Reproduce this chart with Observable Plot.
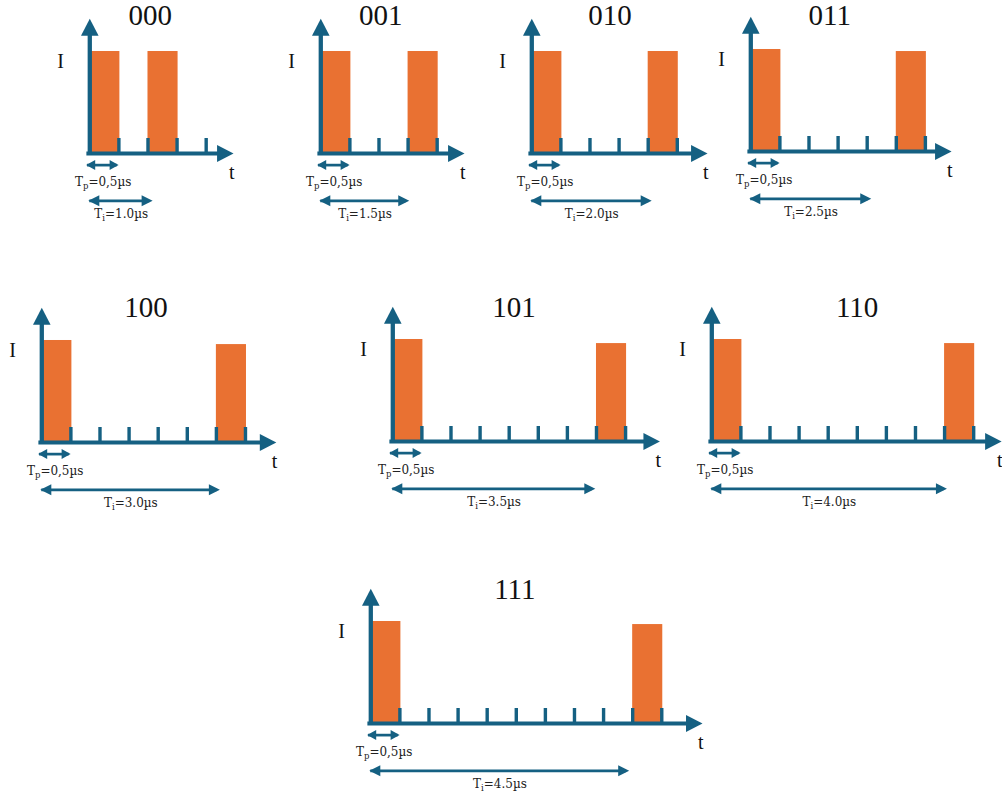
<!DOCTYPE html>
<html>
<head>
<meta charset="utf-8">
<script src="https://cdn.jsdelivr.net/npm/d3@7"></script>
<script src="https://cdn.jsdelivr.net/npm/@observablehq/plot@0.6"></script>
<style>
  body { margin: 0; background: #fff; }
  #wrap { position: relative; width: 1002px; height: 799px; overflow: hidden; background: #fff; }
  #wrap svg { position: absolute; overflow: visible; max-width: none; }
</style>
</head>
<body>
<div id="wrap"></div>
<script>
// ---------- data (µs, normalised current) ----------
const codes       = ["000", "001", "010", "011", "100", "101", "110", "111"];
const intervals   = [1.0, 1.5, 2.0, 2.5, 3.0, 3.5, 4.0, 4.5];      // Ti (µs)
const pulseWidth  = 0.5;                                             // Tp (µs)
const firstAmp    = [1, 1, 1, 1, 1, 1, 1, 1];
const secondAmp   = [1, 1, 1, 0.98, 0.96, 0.96, 0.96, 0.97];
const tickEnds    = [2.0, 2.0, 2.5, 3.0, 3.5, 4.0, 4.5, 5.0];        // last tick (µs)
const axisEnds    = [2.47, 2.47, 3.02, 3.45, 4.03, 4.59, 4.98, 5.7]; // t-axis arrow tip (µs)
const tiArrowEnds = [1.08, 1.52, 2.06, 2.07, 3.06, 3.48, 4.04, 4.44];// Ti arrow tip (µs)
const tickStep    = 0.5;
const tpText      = "T_p=0,5µs";
const tiTexts     = intervals.map(v => `T_i=${v.toFixed(1)}µs`);

// ---------- layout (page pixels: axis origin, title centre and baseline) ----------
const layout = [
  {ox: 89.6,  oy: 152.7, tx: 150, ty: 24},
  {ox: 320,   oy: 152.7, tx: 380, ty: 24},
  {ox: 531.7, oy: 152.7, tx: 610, ty: 24},
  {ox: 750,   oy: 150.7, tx: 829, ty: 24},
  {ox: 41.7,  oy: 441.5, tx: 146, ty: 316.5},
  {ox: 392.7, oy: 440.5, tx: 514, ty: 316.5},
  {ox: 711.7, oy: 440.7, tx: 857, ty: 316.5},
  {ox: 370,   oy: 723,   tx: 514, ty: 599}
];

const BLUE = "#156082", ORANGE = "#E97132";
const PX = 58.2;   // px per µs
const PY = 102;    // px per current unit
const SERIF = "'Liberation Serif', 'DejaVu Serif', serif";
const SMALL = "'DejaVu Serif', serif";

// custom filled arrow head, tip at the origin
function head(len, half, dir) {
  return {
    draw(ctx) {
      const c = Math.cos(dir), s = Math.sin(dir);
      [[0, 0], [-len, -half], [-len, half]].forEach(([x, y], i) => {
        const X = x * c - y * s, Y = x * s + y * c;
        i ? ctx.lineTo(X, Y) : ctx.moveTo(X, Y);
      });
      ctx.closePath();
    }
  };
}
const axisRight = head(16.5, 8.6, 0);
const axisUp    = head(17, 8.8, -Math.PI / 2);
const smallR    = head(9, 5, 0);
const smallL    = head(9, 5, Math.PI);
const midR      = head(11, 5.5, 0);
const midL      = head(11, 5.5, Math.PI);

const wrap = document.getElementById("wrap");
const yTip = 1.32, xMinD = -0.95, yMinD = -0.75, yMaxD = 1.5;
const tpY = -0.114, tiY = -0.464;

codes.forEach((code, i) => {
  const Ti = intervals[i];
  const L = layout[i];
  const xMaxD = axisEnds[i] + 0.2;
  const width = (xMaxD - xMinD) * PX;
  const height = (yMaxD - yMinD) * PY;
  const pulses = [
    {start: 0, end: pulseWidth, amp: firstAmp[i]},
    {start: Ti, end: Ti + pulseWidth, amp: secondAmp[i]}
  ];
  const ticks = d3.range(tickStep, tickEnds[i] + 1e-6, tickStep);
  const titleX = (L.tx - L.ox) / PX;
  const titleY = (L.oy - L.ty) / PY;
  const tiEnd = tiArrowEnds[i];

  const svg = Plot.plot({
    width, height, margin: 0,
    x: {domain: [xMinD, xMaxD], axis: null},
    y: {domain: [yMinD, yMaxD], axis: null},
    style: {background: "transparent", overflow: "visible"},
    marks: [
      Plot.rect(pulses, {x1: "start", x2: "end", y1: () => 0, y2: "amp", fill: ORANGE, insetRight: -1}),
      Plot.ruleX(ticks, {x: d => d, y1: () => 0, y2: () => 0.147, stroke: BLUE, strokeWidth: 3.4}),
      // t axis
      Plot.ruleY([0], {x1: () => -0.05, x2: () => axisEnds[i] - 0.15, stroke: BLUE, strokeWidth: 4.2}),
      Plot.dot([0], {x: () => axisEnds[i], y: () => 0, symbol: axisRight, fill: BLUE, stroke: "none"}),
      // I axis
      Plot.ruleX([0], {y1: () => -0.02, y2: () => yTip - 0.1, stroke: BLUE, strokeWidth: 4.3}),
      Plot.dot([0], {x: () => 0, y: () => yTip, symbol: axisUp, fill: BLUE, stroke: "none"}),
      // Tp double arrow
      Plot.ruleY([0], {x1: () => -0.04, x2: () => pulseWidth - 0.03, y: () => tpY, stroke: BLUE, strokeWidth: 2.7}),
      Plot.dot([0], {x: () => -0.062, y: () => tpY, symbol: smallL, fill: BLUE, stroke: "none"}),
      Plot.dot([0], {x: () => pulseWidth - 0.005, y: () => tpY, symbol: smallR, fill: BLUE, stroke: "none"}),
      // Ti double arrow
      Plot.ruleY([0], {x1: () => 0, x2: () => tiEnd - 0.05, y: () => tiY, stroke: BLUE, strokeWidth: 2.7}),
      Plot.dot([0], {x: () => -0.025, y: () => tiY, symbol: midL, fill: BLUE, stroke: "none"}),
      Plot.dot([0], {x: () => tiEnd, y: () => tiY, symbol: midR, fill: BLUE, stroke: "none"}),
      // texts
      Plot.text([code], {x: () => titleX, y: () => titleY, text: d => d, fontSize: 29, fontFamily: SERIF, fill: "#111", lineAnchor: "bottom"}),
      Plot.text(["I"], {x: () => -0.5, y: () => 0.84, text: d => d, fontSize: 20, fontFamily: SERIF, fill: "#111", lineAnchor: "bottom"}),
      Plot.text(["t"], {x: () => axisEnds[i] - 0.03, y: () => -0.25, text: d => d, fontSize: 20, fontFamily: SERIF, fill: "#111", lineAnchor: "bottom"}),
      Plot.text([tpText], {x: () => 0.23, y: () => -0.317, text: d => d, fontSize: 12, fontFamily: SMALL, fill: "#222", lineAnchor: "bottom"}),
      Plot.text([tiTexts[i]], {x: () => tiEnd / 2, y: () => -0.637, text: d => d, fontSize: 12, fontFamily: SMALL, fill: "#222", lineAnchor: "bottom"})
    ]
  });

  // subscripts (T_p, T_i)
  const ns = "http://www.w3.org/2000/svg";
  svg.querySelectorAll("text").forEach(t => {
    const m = t.textContent.match(/^(.)_(.)(.*)$/);
    if (!m) return;
    t.textContent = "";
    const a = document.createElementNS(ns, "tspan"); a.textContent = m[1];
    const b = document.createElementNS(ns, "tspan"); b.textContent = m[2];
    b.setAttribute("font-size", "8.5"); b.setAttribute("dy", "3");
    const c = document.createElementNS(ns, "tspan"); c.textContent = m[3];
    c.setAttribute("dy", "-3");
    t.append(a, b, c);
  });

  svg.style.left = (L.ox + xMinD * PX) + "px";
  svg.style.top = (L.oy - yMaxD * PY) + "px";
  wrap.appendChild(svg);
});
</script>
</body>
</html>
